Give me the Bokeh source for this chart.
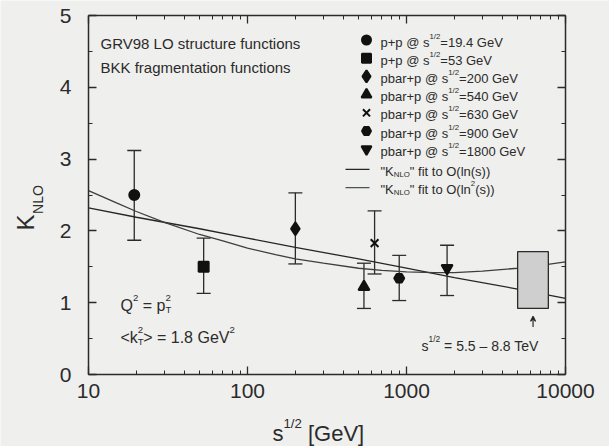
import math
from bokeh.plotting import figure
from bokeh.models import (Range1d, LogAxis, LinearAxis, FixedTicker, Label, PrintfTickFormatter,
                          ColumnDataSource, Whisker, TeeHead, Arrow, VeeHead)
from bokeh.embed import file_html
from bokeh.resources import INLINE

# ---------------- data ----------------
sqrt_s = [19.4, 53, 200, 540, 630, 900, 1800]
k_val = [2.50, 1.50, 2.03, 1.22, 1.83, 1.34, 1.48]
k_hi = [3.12, 1.90, 2.53, 1.55, 2.28, 1.66, 1.80]
k_lo = [1.87, 1.13, 1.54, 0.92, 1.40, 1.03, 1.10]
markers = ["circle", "square", "diamond", "triangle", "x", "hex", "inverted_triangle"]
beams = ["p+p", "p+p", "pbar+p", "pbar+p", "pbar+p", "pbar+p", "pbar+p"]
energies = ["19.4", "53", "200", "540", "630", "900", "1800"]

fit_ln_s = [10, 20, 50, 100, 200, 500, 1000, 2000, 5000, 10000]
fit_ln_k = [2.32, 2.19, 2.03, 1.90, 1.77, 1.61, 1.48, 1.35, 1.19, 1.06]

fit_ln2_s = [10, 15, 20, 30, 50, 70, 100, 150, 200, 300, 500, 700, 1000, 1500,
             2000, 3000, 5000, 7000, 10000]
fit_ln2_k = [2.56, 2.39, 2.27, 2.12, 1.95, 1.86, 1.76, 1.67, 1.61, 1.55, 1.48, 1.45,
             1.43, 1.42, 1.42, 1.44, 1.48, 1.52, 1.57]

lhc_s = [5000, 7800]
lhc_k = [0.92, 1.71]
lhc_arrow_s = 6250
lhc_arrow_k = [0.66, 0.81]

x_ticks = [10, 100, 1000, 10000]
x_minor = [m * d for d in (10, 100, 1000) for m in range(2, 10)]
y_ticks = [0, 1, 2, 3, 4, 5]
y_minor = [0.5, 1.5, 2.5, 3.5, 4.5]
x_lim = (10, 10000)
y_lim = (0, 5)

# ---------------- figure ----------------
INK = "#2b2b2b"
BG = "#efefed"
FONT = "Liberation Sans"
MSIZE = {"circle": 10, "square": 10, "diamond": 13, "triangle": 11, "x": 11,
         "hex": 10, "inverted_triangle": 11}

# pixel position of the plot box inside the 609x446 canvas
L, R, T, B = 88, 565, 15, 374
W_, H_ = 609, 446


def X(px):
    return 10 ** (math.log10(x_lim[0]) + (px - L) / (R - L) *
                  (math.log10(x_lim[1]) - math.log10(x_lim[0])))


def Y(py):
    return y_lim[0] + (B - py) / (B - T) * (y_lim[1] - y_lim[0])


p = figure(width=W_, height=H_, x_axis_type="log", x_range=Range1d(X(0), X(W_)),
           y_range=Range1d(Y(H_), Y(0)), output_backend="svg", toolbar_location=None,
           x_axis_location=None, y_axis_location=None,
           min_border=0, min_border_left=0, min_border_right=0,
           min_border_top=0, min_border_bottom=0)
p.background_fill_color = BG
p.border_fill_color = BG
p.grid.visible = False
p.outline_line_color = None


def style_axis(ax, show_labels):
    ax.axis_line_color = INK
    ax.axis_line_width = 1.5
    ax.major_tick_line_color = INK
    ax.minor_tick_line_color = INK
    ax.major_tick_line_width = 1.3
    ax.minor_tick_line_width = 1.0
    ax.major_tick_in = 8
    ax.major_tick_out = 0
    ax.minor_tick_in = 4
    ax.minor_tick_out = 0
    ax.major_label_text_color = INK
    ax.major_label_text_font = FONT
    if show_labels:
        ax.major_label_text_font_size = "21px"
    else:
        ax.major_label_text_font_size = "2px"
        ax.major_label_text_alpha = 0.0
        ax.major_label_standoff = 0


for side, loc, lab in (("below", y_lim[0], True), ("above", y_lim[1], False)):
    ax = LogAxis(ticker=FixedTicker(ticks=x_ticks, minor_ticks=x_minor),
                 formatter=PrintfTickFormatter(format="%d"),
                 fixed_location=loc, bounds=x_lim)
    style_axis(ax, lab)
    ax.major_label_standoff = 9 if lab else 0
    p.add_layout(ax, side)

for side, loc, lab in (("left", x_lim[0], True), ("right", x_lim[1], False)):
    ax = LinearAxis(ticker=FixedTicker(ticks=y_ticks, minor_ticks=y_minor),
                    fixed_location=loc, bounds=y_lim)
    style_axis(ax, lab)
    ax.major_label_standoff = 17 if lab else 0
    p.add_layout(ax, side)

# ---------------- marks ----------------
p.line(fit_ln_s, fit_ln_k, line_color="#262626", line_width=1.3)
p.line(fit_ln2_s, fit_ln2_k, line_color="#3a403a", line_width=1.3)

p.quad(left=[lhc_s[0]], right=[lhc_s[1]], bottom=[lhc_k[0]], top=[lhc_k[1]],
       fill_color="#cfcfcf", line_color=INK, line_width=1.3)
p.add_layout(Arrow(end=VeeHead(size=5, line_color=INK, line_width=1.2),
                   x_start=lhc_arrow_s, y_start=lhc_arrow_k[0],
                   x_end=lhc_arrow_s, y_end=lhc_arrow_k[1],
                   line_color=INK, line_width=1.2))

src = ColumnDataSource(dict(x=sqrt_s, y=k_val, hi=k_hi, lo=k_lo, m=markers,
                            sz=[MSIZE[m] for m in markers]))
p.add_layout(Whisker(source=src, base="x", upper="hi", lower="lo", dimension="height",
                     line_color=INK, line_width=1.3,
                     upper_head=TeeHead(size=14, line_color=INK, line_width=1.3),
                     lower_head=TeeHead(size=14, line_color=INK, line_width=1.3)))
p.scatter("x", "y", source=src, marker="m", size="sz", fill_color="#111111",
          line_color="#111111", line_width=2)

# ---------------- text helpers ----------------
AW = {' ': 278, '"': 355, '(': 333, ')': 333, '+': 584, '.': 278, '/': 278, '=': 584,
      '<': 584, '>': 584, '@': 1015, '[': 278, ']': 278, '-': 333, '\u2013': 556,
      'A': 667, 'B': 667, 'G': 778, 'K': 667, 'L': 556, 'N': 722, 'O': 778, 'Q': 778,
      'R': 722, 'T': 611, 'V': 667, 'a': 556, 'b': 556, 'c': 500, 'e': 556, 'f': 278,
      'g': 556, 'i': 222, 'k': 500, 'l': 222, 'm': 833, 'n': 556, 'o': 556, 'p': 556,
      'r': 333, 's': 500, 't': 278, 'u': 556}
for d in "0123456789":
    AW[d] = 556


def tw(s, size):
    return sum(AW.get(c, 556) for c in s) / 1000.0 * size


def rich(px, py, parts, size, color=INK):
    """Text run whose visual centre line is at pixel row py.
    parts: (text, kind); kind n = normal, sup, sub, sub0 = subscript without advance."""
    x = px
    for text, kind in parts:
        if kind == "n":
            fs, dy = size, 0
        elif kind == "sup":
            fs, dy = size * 0.6, size * 0.45
        else:
            fs, dy = size * 0.6, -size * 0.25
        stripped = text.lstrip(" ")
        x += tw(text[:len(text) - len(stripped)], fs)
        p.add_layout(Label(x=X(x), y=Y(py), y_offset=dy, text=stripped, text_font=FONT,
                           text_font_size=f"{fs:.1f}px", text_color=color,
                           text_align="left", text_baseline="alphabetic"))
        if kind != "sub0":
            x += tw(stripped, fs)


# top-left notes
rich(100, 43, [("GRV98 LO structure functions", "n")], 15)
rich(100, 67, [("BKK fragmentation functions", "n")], 15)

# bottom-left notes
rich(120, 305, [("Q", "n"), ("2", "sup"), (" = p", "n"), ("T", "sub0"), ("2", "sup")], 16)
rich(120, 337, [("<k", "n"), ("T", "sub0"), ("2", "sup"), ("> = 1.8 GeV", "n"), ("2", "sup")], 16)

# LHC note
rich(421, 345, [("s", "n"), ("1/2", "sup"), (" = 5.5 \u2013 8.8 TeV", "n")], 14)

# legend
row0, dyr = 39.5, 18.2
for i in range(7):
    yc = row0 + dyr * i
    p.scatter([X(366)], [Y(yc)], marker=markers[i], size=MSIZE[markers[i]] - 1,
              fill_color="#111111", line_color="#111111", line_width=2)
    rich(380, yc + 2, [(beams[i] + " @ s", "n"), ("1/2", "sup"),
                       ("=" + energies[i] + " GeV", "n")], 13)

for j, col in enumerate(["#262626", "#4a554a"]):
    yc = row0 + dyr * (7 + j) + 2
    p.line([X(345), X(369)], [Y(yc), Y(yc)], line_color=col, line_width=1.3)
    if j == 0:
        parts = [('"K', "n"), ("NLO", "sub"), ('" fit to O(ln(s))', "n")]
    else:
        parts = [('"K', "n"), ("NLO", "sub"), ('" fit to O(ln', "n"), ("2", "sup"), ("(s))", "n")]
    rich(380, yc + 2, parts, 13)

# axis titles
p.add_layout(Label(x=X(25), y=Y(222), text="K", angle=math.pi / 2, text_font=FONT,
                   text_font_size="24px", text_color=INK, text_align="center",
                   text_baseline="middle"))
p.add_layout(Label(x=X(37), y=Y(199), text="NLO", angle=math.pi / 2, text_font=FONT,
                   text_font_size="14px", text_color=INK, text_align="center",
                   text_baseline="middle"))
rich(272, 433, [("s", "n"), ("1/2", "sup"), (" [GeV]", "n")], 22)

open("out.html", "w").write(file_html(p, INLINE))
